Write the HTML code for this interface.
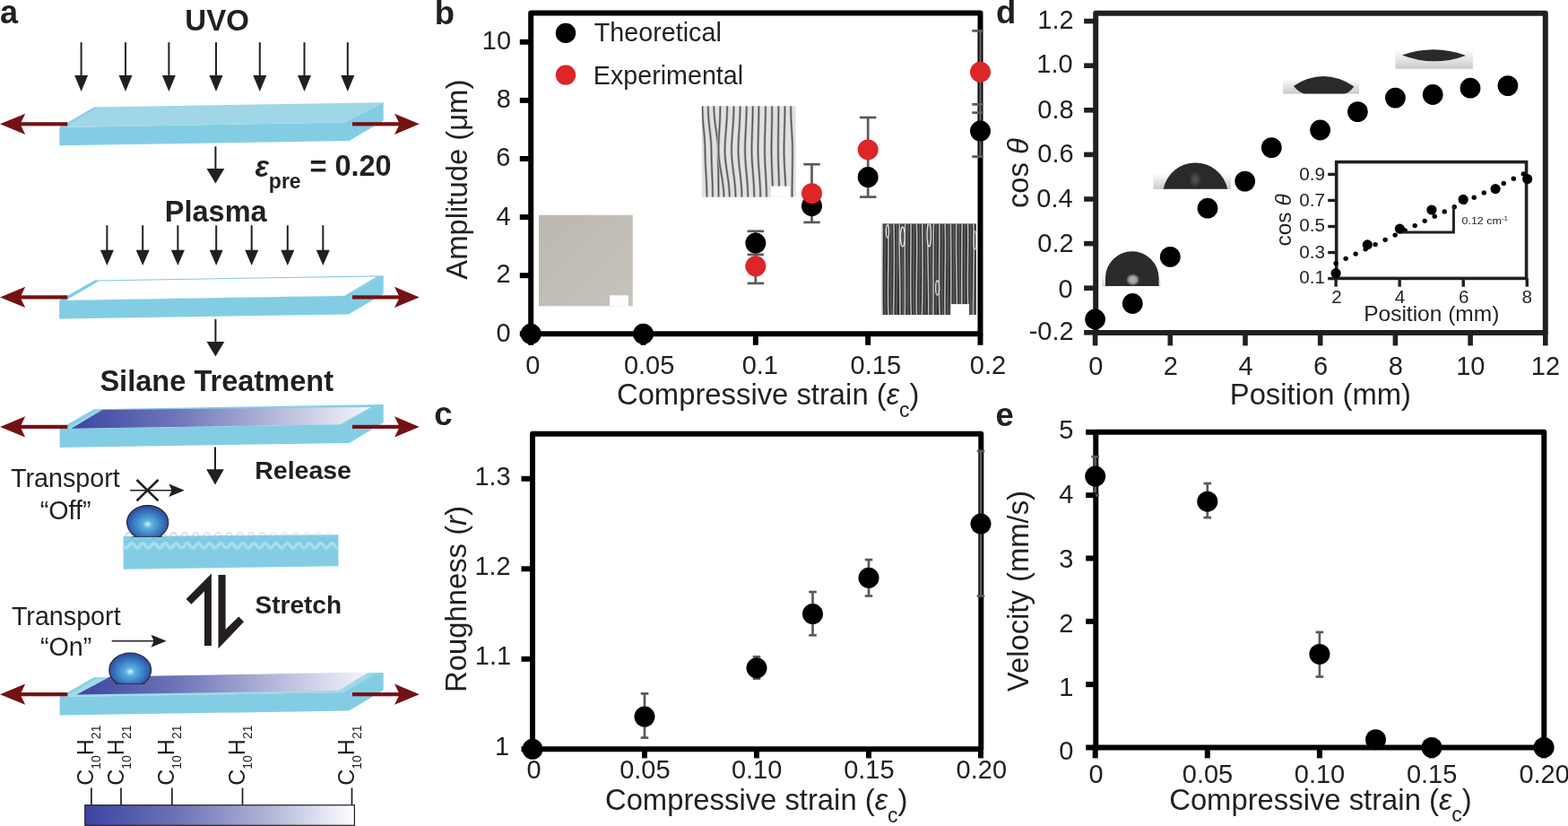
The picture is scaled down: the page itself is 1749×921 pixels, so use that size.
<!DOCTYPE html>
<html><head><meta charset="utf-8"><title>Figure</title>
<style>html,body{margin:0;padding:0;background:#fff;overflow:hidden;} svg{display:block;} text{font-family:'Liberation Sans', Arial, Helvetica, sans-serif;}</style>
</head><body>
<svg width="1749" height="921" viewBox="0 0 1749 921">
<defs>
<linearGradient id="sil" x1="0" y1="0" x2="1" y2="0"><stop offset="0" stop-color="#3c45a2"/><stop offset="0.35" stop-color="#6f75b8"/><stop offset="0.7" stop-color="#b9bcdc"/><stop offset="1" stop-color="#f6f6fb"/></linearGradient>
<linearGradient id="bar" x1="0" y1="0" x2="1" y2="0"><stop offset="0" stop-color="#3a44a1"/><stop offset="0.35" stop-color="#6e74b7"/><stop offset="0.7" stop-color="#b5b8da"/><stop offset="1" stop-color="#ffffff"/></linearGradient>
<radialGradient id="drop" cx="0.5" cy="0.55" r="0.55" fx="0.5" fy="0.55"><stop offset="0" stop-color="#ffffff"/><stop offset="0.07" stop-color="#a4daf0"/><stop offset="0.22" stop-color="#58b0dc"/><stop offset="0.6" stop-color="#3a7cc3"/><stop offset="1" stop-color="#2a4598"/></radialGradient>
<clipPath id="cd1"><rect x="130" y="555" width="70" height="43.6"/></clipPath>
<clipPath id="cd2"><rect x="110" y="720" width="70" height="42.6"/></clipPath>
<linearGradient id="dbg" x1="0" y1="0" x2="0" y2="1"><stop offset="0" stop-color="#ffffff"/><stop offset="1" stop-color="#c9c9c9"/></linearGradient>
<radialGradient id="hl1" cx="0.5" cy="0.5" r="0.5"><stop offset="0" stop-color="#b8b8b8"/><stop offset="0.55" stop-color="#9c9c9c"/><stop offset="1" stop-color="#2b2b2b"/></radialGradient>
<radialGradient id="hl2" cx="0.5" cy="0.5" r="0.5"><stop offset="0" stop-color="#5a5a5a"/><stop offset="1" stop-color="#2b2b2b"/></radialGradient>
</defs>
<rect x="0" y="0" width="1749" height="921" fill="#ffffff"/>
<text transform="translate(0.00,26.34)" font-size="36" font-weight="bold" fill="#231f20">a</text>
<text transform="translate(242.10,34.40)" font-size="33" font-weight="bold" text-anchor="middle" fill="#231f20">UVO</text>
<line x1="90.60" y1="47.20" x2="90.60" y2="85.00" stroke="#231f20" stroke-width="2.0"/>
<polygon points="83.10,84.00 98.10,84.00 90.60,102.00" fill="#231f20"/>
<line x1="140.00" y1="47.20" x2="140.00" y2="85.00" stroke="#231f20" stroke-width="2.0"/>
<polygon points="132.50,84.00 147.50,84.00 140.00,102.00" fill="#231f20"/>
<line x1="188.40" y1="47.20" x2="188.40" y2="85.00" stroke="#231f20" stroke-width="2.0"/>
<polygon points="180.90,84.00 195.90,84.00 188.40,102.00" fill="#231f20"/>
<line x1="241.00" y1="47.20" x2="241.00" y2="85.00" stroke="#231f20" stroke-width="2.0"/>
<polygon points="233.50,84.00 248.50,84.00 241.00,102.00" fill="#231f20"/>
<line x1="289.80" y1="47.20" x2="289.80" y2="85.00" stroke="#231f20" stroke-width="2.0"/>
<polygon points="282.30,84.00 297.30,84.00 289.80,102.00" fill="#231f20"/>
<line x1="339.50" y1="47.20" x2="339.50" y2="85.00" stroke="#231f20" stroke-width="2.0"/>
<polygon points="332.00,84.00 347.00,84.00 339.50,102.00" fill="#231f20"/>
<line x1="387.80" y1="47.20" x2="387.80" y2="85.00" stroke="#231f20" stroke-width="2.0"/>
<polygon points="380.30,84.00 395.30,84.00 387.80,102.00" fill="#231f20"/>
<polygon points="66.30,141.90 383.40,136.60 427.70,114.20 427.70,134.60 389.60,157.00 66.30,162.30" fill="#83cde4"/>
<polygon points="66.30,141.90 105.00,119.50 427.70,114.20 383.40,136.60" fill="#9fd7e8"/>
<polygon points="66.30,141.90 105.00,119.50 110.00,119.45 71.50,141.80" fill="#8dd1e6"/>
<rect x="20" y="136.20" width="55.3" height="4.2" fill="#741213"/>
<polygon points="0.00,138.30 28.20,126.70 22.60,138.30 28.20,149.90" fill="#741213"/>
<rect x="393" y="136.20" width="54" height="4.2" fill="#741213"/>
<polygon points="467.80,138.30 440.00,126.70 445.80,138.30 440.00,149.90" fill="#741213"/>
<line x1="240.40" y1="163.30" x2="240.40" y2="188.90" stroke="#231f20" stroke-width="2.0"/>
<polygon points="230.50,187.90 250.30,187.90 240.40,204.40" fill="#231f20"/>
<text transform="translate(284.60,196.65)" font-size="32.5" font-weight="bold" font-style="italic" fill="#231f20">ε</text>
<text transform="translate(299.85,209.60)" font-size="23" font-weight="bold" fill="#231f20">pre</text>
<text transform="translate(345.40,195.60)" font-size="32.5" font-weight="bold" fill="#231f20"><tspan dy="1.4">=</tspan><tspan dy="-1.4"> 0.20</tspan></text>
<text transform="translate(240.75,246.90)" font-size="32.5" font-weight="bold" text-anchor="middle" fill="#231f20">Plasma</text>
<line x1="119.40" y1="251.30" x2="119.40" y2="279.80" stroke="#231f20" stroke-width="2.0"/>
<polygon points="111.90,278.80 126.90,278.80 119.40,296.00" fill="#231f20"/>
<line x1="159.20" y1="251.30" x2="159.20" y2="279.80" stroke="#231f20" stroke-width="2.0"/>
<polygon points="151.70,278.80 166.70,278.80 159.20,296.00" fill="#231f20"/>
<line x1="198.40" y1="251.30" x2="198.40" y2="279.80" stroke="#231f20" stroke-width="2.0"/>
<polygon points="190.90,278.80 205.90,278.80 198.40,296.00" fill="#231f20"/>
<line x1="241.20" y1="251.30" x2="241.20" y2="279.80" stroke="#231f20" stroke-width="2.0"/>
<polygon points="233.70,278.80 248.70,278.80 241.20,296.00" fill="#231f20"/>
<line x1="280.70" y1="251.30" x2="280.70" y2="279.80" stroke="#231f20" stroke-width="2.0"/>
<polygon points="273.20,278.80 288.20,278.80 280.70,296.00" fill="#231f20"/>
<line x1="320.80" y1="251.30" x2="320.80" y2="279.80" stroke="#231f20" stroke-width="2.0"/>
<polygon points="313.30,278.80 328.30,278.80 320.80,296.00" fill="#231f20"/>
<line x1="360.30" y1="251.30" x2="360.30" y2="279.80" stroke="#231f20" stroke-width="2.0"/>
<polygon points="352.80,278.80 367.80,278.80 360.30,296.00" fill="#231f20"/>
<polygon points="66.20,334.90 383.60,329.90 427.70,307.30 427.70,327.50 388.90,350.40 66.20,355.40" fill="#83cde4"/>
<polygon points="66.20,334.90 105.50,312.50 427.70,307.30 383.60,329.90" fill="#80cbe3"/>
<polygon points="73.80,334.80 110.20,313.40 420.30,308.40 384.20,329.70" fill="#ffffff"/>
<rect x="20" y="329.30" width="55.3" height="4.2" fill="#741213"/>
<polygon points="0.00,331.40 28.20,319.80 22.60,331.40 28.20,343.00" fill="#741213"/>
<rect x="393" y="329.30" width="54" height="4.2" fill="#741213"/>
<polygon points="467.80,331.40 440.00,319.80 445.80,331.40 440.00,343.00" fill="#741213"/>
<line x1="240.40" y1="355.90" x2="240.40" y2="382.00" stroke="#231f20" stroke-width="2.0"/>
<polygon points="230.50,381.00 250.30,381.00 240.40,397.60" fill="#231f20"/>
<text transform="translate(241.75,435.65)" font-size="32.6" font-weight="bold" text-anchor="middle" fill="#231f20">Silane Treatment</text>
<polygon points="66.60,478.10 380.10,473.20 420.00,451.60 427.70,451.10 427.70,471.00 389.60,494.00 66.60,498.90" fill="#83cde4"/>
<polygon points="66.60,478.10 105.10,456.20 427.70,451.10 380.10,473.20" fill="#87cfe4"/>
<line x1="77.60" y1="478.00" x2="111.90" y2="456.60" stroke="#a6dbea" stroke-width="1.3"/>
<polygon points="79.70,477.80 114.30,456.90 413.60,454.10 380.10,472.90" fill="url(#sil)"/>
<rect x="20" y="473.80" width="55.3" height="4.2" fill="#741213"/>
<polygon points="0.00,475.90 28.20,464.30 22.60,475.90 28.20,487.50" fill="#741213"/>
<rect x="393" y="473.80" width="54" height="4.2" fill="#741213"/>
<polygon points="467.80,475.90 440.00,464.30 445.80,475.90 440.00,487.50" fill="#741213"/>
<line x1="240.00" y1="498.60" x2="240.00" y2="524.30" stroke="#231f20" stroke-width="2.0"/>
<polygon points="230.20,523.30 249.80,523.30 240.00,540.60" fill="#231f20"/>
<text transform="translate(284.20,534.15)" font-size="28.5" font-weight="bold" fill="#231f20">Release</text>
<text transform="translate(12.10,543.45)" font-size="28.7" fill="#231f20">Transport</text>
<text transform="translate(44.70,578.80)" font-size="28.7" fill="#231f20">“Off”</text>
<line x1="152.50" y1="535.00" x2="176.50" y2="558.40" stroke="#231f20" stroke-width="2.6"/>
<line x1="176.50" y1="535.00" x2="152.50" y2="558.40" stroke="#231f20" stroke-width="2.6"/>
<line x1="145.10" y1="546.70" x2="192.00" y2="546.70" stroke="#231f20" stroke-width="1.6"/>
<polygon points="188.40,539.50 205.70,546.70 188.40,553.90 191.50,546.70" fill="#231f20"/>
<polygon points="137.60,597.90 377.40,596.30 377.40,631.30 137.60,634.70" fill="#83cde4"/>
<path d="M137.60,608.50 L138.60,609.76 L139.60,610.71 L140.61,611.10 L141.61,610.83 L142.61,609.98 L143.61,608.75 L144.61,607.46 L145.61,606.43 L146.62,605.93 L147.62,606.07 L148.62,606.82 L149.62,608.00 L150.62,609.31 L151.62,610.41 L152.63,611.03 L153.63,611.01 L154.63,610.36 L155.63,609.24 L156.63,607.94 L157.63,606.77 L158.64,606.05 L159.64,605.94 L160.64,606.48 L161.64,607.52 L162.64,608.82 L163.64,610.03 L164.65,610.86 L165.65,611.09 L166.65,610.67 L167.65,609.70 L168.65,608.43 L169.65,607.18 L170.66,606.26 L171.66,605.90 L172.66,606.20 L173.66,607.08 L174.66,608.32 L175.66,609.60 L176.67,610.61 L177.67,611.08 L178.67,610.91 L179.67,610.12 L180.67,608.93 L181.67,607.63 L182.68,606.55 L183.68,605.96 L184.68,606.01 L185.68,606.69 L186.68,607.83 L187.68,609.13 L188.69,610.28 L189.69,610.98 L190.69,611.05 L191.69,610.48 L192.69,609.41 L193.69,608.11 L194.70,606.91 L195.70,606.11 L196.70,605.91 L197.70,606.37 L198.70,607.36 L199.70,608.64 L200.71,609.88 L201.71,610.78 L202.71,611.10 L203.71,610.77 L204.71,609.86 L205.71,608.61 L206.72,607.34 L207.72,606.35 L208.72,605.91 L209.72,606.12 L210.72,606.93 L211.72,608.14 L212.73,609.44 L213.73,610.50 L214.73,611.05 L215.73,610.97 L216.73,610.26 L217.73,609.11 L218.74,607.80 L219.74,606.67 L220.74,606.00 L221.74,605.96 L222.74,606.56 L223.74,607.65 L224.75,608.95 L225.75,610.14 L226.75,610.91 L227.75,611.08 L228.75,610.59 L229.75,609.58 L230.76,608.29 L231.76,607.06 L232.76,606.19 L233.76,605.90 L234.76,606.27 L235.76,607.20 L236.77,608.46 L237.77,609.72 L238.77,610.69 L239.77,611.09 L240.77,610.85 L241.77,610.01 L242.78,608.79 L243.78,607.50 L244.78,606.46 L245.78,605.93 L246.78,606.05 L247.78,606.79 L248.79,607.96 L249.79,609.26 L250.79,610.38 L251.79,611.01 L252.79,611.02 L253.79,610.39 L254.80,609.28 L255.80,607.98 L256.80,606.81 L257.80,606.06 L258.80,605.93 L259.81,606.45 L260.81,607.48 L261.81,608.77 L262.81,610.00 L263.81,610.84 L264.81,611.10 L265.82,610.70 L266.82,609.74 L267.82,608.48 L268.82,607.22 L269.82,606.28 L270.82,605.90 L271.83,606.18 L272.83,607.04 L273.83,608.27 L274.83,609.56 L275.83,610.58 L276.83,611.08 L277.84,610.92 L278.84,610.16 L279.84,608.97 L280.84,607.67 L281.84,606.58 L282.84,605.97 L283.85,606.00 L284.85,606.66 L285.85,607.78 L286.85,609.09 L287.85,610.25 L288.85,610.96 L289.86,611.06 L290.86,610.51 L291.86,609.45 L292.86,608.16 L293.86,606.95 L294.86,606.13 L295.87,605.91 L296.87,606.34 L297.87,607.32 L298.87,608.59 L299.87,609.84 L300.87,610.76 L301.88,611.10 L302.88,610.79 L303.88,609.90 L304.88,608.66 L305.88,607.38 L306.88,606.38 L307.89,605.92 L308.89,606.10 L309.89,606.90 L310.89,608.09 L311.89,609.39 L312.89,610.47 L313.90,611.05 L314.90,610.98 L315.90,610.29 L316.90,609.15 L317.90,607.85 L318.90,606.70 L319.91,606.02 L320.91,605.96 L321.91,606.54 L322.91,607.61 L323.91,608.91 L324.91,610.11 L325.92,610.90 L326.92,611.08 L327.92,610.62 L328.92,609.62 L329.92,608.34 L330.92,607.10 L331.93,606.21 L332.93,605.90 L333.93,606.25 L334.93,607.16 L335.93,608.41 L336.93,609.69 L337.94,610.66 L338.94,611.09 L339.94,610.87 L340.94,610.05 L341.94,608.84 L342.94,607.54 L343.95,606.49 L344.95,605.94 L345.95,606.04 L346.95,606.76 L347.95,607.92 L348.95,609.22 L349.96,610.34 L350.96,611.00 L351.96,611.03 L352.96,610.42 L353.96,609.32 L354.96,608.02 L355.97,606.84 L356.97,606.08 L357.97,605.92 L358.97,606.42 L359.97,607.44 L360.97,608.73 L361.98,609.96 L362.98,610.82 L363.98,611.10 L364.98,610.72 L365.98,609.78 L366.98,608.52 L367.99,607.25 L368.99,606.30 L369.99,605.90 L370.99,606.16 L371.99,607.01 L372.99,608.23 L374.00,609.52 L375.00,610.55 L376.00,611.07" stroke="#a9dcec" stroke-width="3.6" fill="none"/>
<path d="M137.60,602.50 L138.60,603.67 L139.60,604.54 L140.61,604.90 L141.61,604.65 L142.61,603.86 L143.61,602.73 L144.61,601.54 L145.61,600.59 L146.62,600.12 L147.62,600.26 L148.62,600.95 L149.62,602.04 L150.62,603.24 L151.62,604.26 L152.63,604.83 L153.63,604.81 L154.63,604.22 L155.63,603.18 L156.63,601.98 L157.63,600.91 L158.64,600.23 L159.64,600.13 L160.64,600.63 L161.64,601.60 L162.64,602.79 L163.64,603.91 L164.65,604.68 L165.65,604.89 L166.65,604.50 L167.65,603.61 L168.65,602.44 L169.65,601.28 L170.66,600.43 L171.66,600.10 L172.66,600.38 L173.66,601.19 L174.66,602.33 L175.66,603.52 L176.67,604.45 L177.67,604.88 L178.67,604.72 L179.67,604.00 L180.67,602.90 L181.67,601.70 L182.68,600.70 L183.68,600.15 L184.68,600.20 L185.68,600.83 L186.68,601.88 L187.68,603.08 L188.69,604.14 L189.69,604.79 L190.69,604.85 L191.69,604.33 L192.69,603.34 L193.69,602.14 L194.70,601.03 L195.70,600.30 L196.70,600.11 L197.70,600.53 L198.70,601.45 L199.70,602.63 L200.71,603.78 L201.71,604.60 L202.71,604.90 L203.71,604.59 L204.71,603.76 L205.71,602.60 L206.72,601.43 L207.72,600.52 L208.72,600.11 L209.72,600.30 L210.72,601.05 L211.72,602.17 L212.73,603.36 L213.73,604.34 L214.73,604.86 L215.73,604.78 L216.73,604.12 L217.73,603.06 L218.74,601.86 L219.74,600.81 L220.74,600.20 L221.74,600.16 L222.74,600.71 L223.74,601.72 L224.75,602.92 L225.75,604.01 L226.75,604.73 L227.75,604.88 L228.75,604.43 L229.75,603.50 L230.76,602.31 L231.76,601.17 L232.76,600.37 L233.76,600.10 L234.76,600.44 L235.76,601.30 L236.77,602.46 L237.77,603.63 L238.77,604.52 L239.77,604.89 L240.77,604.67 L241.77,603.90 L242.78,602.77 L243.78,601.58 L244.78,600.62 L245.78,600.13 L246.78,600.24 L247.78,600.92 L248.79,602.00 L249.79,603.20 L250.79,604.23 L251.79,604.82 L252.79,604.83 L253.79,604.24 L254.80,603.22 L255.80,602.02 L256.80,600.94 L257.80,600.25 L258.80,600.13 L259.81,600.61 L260.81,601.56 L261.81,602.75 L262.81,603.88 L263.81,604.66 L264.81,604.90 L265.82,604.53 L266.82,603.65 L267.82,602.48 L268.82,601.31 L269.82,600.45 L270.82,600.10 L271.83,600.36 L272.83,601.16 L273.83,602.29 L274.83,603.48 L275.83,604.42 L276.83,604.88 L277.84,604.74 L278.84,604.03 L279.84,602.94 L280.84,601.73 L281.84,600.73 L282.84,600.16 L283.85,600.19 L284.85,600.80 L285.85,601.84 L286.85,603.04 L287.85,604.11 L288.85,604.77 L289.86,604.86 L290.86,604.35 L291.86,603.38 L292.86,602.18 L293.86,601.07 L294.86,600.31 L295.87,600.11 L296.87,600.51 L297.87,601.41 L298.87,602.59 L299.87,603.74 L300.87,604.58 L301.88,604.90 L302.88,604.61 L303.88,603.79 L304.88,602.65 L305.88,601.46 L306.88,600.54 L307.89,600.11 L308.89,600.29 L309.89,601.02 L310.89,602.13 L311.89,603.32 L312.89,604.32 L313.90,604.85 L314.90,604.79 L315.90,604.15 L316.90,603.10 L317.90,601.90 L318.90,600.84 L319.91,600.21 L320.91,600.15 L321.91,600.69 L322.91,601.68 L323.91,602.88 L324.91,603.98 L325.92,604.71 L326.92,604.89 L327.92,604.46 L328.92,603.53 L329.92,602.35 L330.92,601.21 L331.93,600.39 L332.93,600.10 L333.93,600.42 L334.93,601.26 L335.93,602.42 L336.93,603.59 L337.94,604.49 L338.94,604.89 L339.94,604.69 L340.94,603.93 L341.94,602.81 L342.94,601.62 L343.95,600.64 L344.95,600.14 L345.95,600.23 L346.95,600.89 L347.95,601.96 L348.95,603.17 L349.96,604.20 L350.96,604.81 L351.96,604.84 L352.96,604.27 L353.96,603.26 L354.96,602.06 L355.97,600.97 L356.97,600.26 L357.97,600.12 L358.97,600.58 L359.97,601.52 L360.97,602.71 L361.98,603.85 L362.98,604.64 L363.98,604.90 L364.98,604.55 L365.98,603.68 L366.98,602.52 L367.99,601.35 L368.99,600.47 L369.99,600.10 L370.99,600.34 L371.99,601.12 L372.99,602.25 L374.00,603.44 L375.00,604.40 L376.00,604.87" stroke="#6aa8d8" stroke-width="0.7" fill="none" opacity="0.7"/>
<defs><linearGradient id="scg" x1="0" y1="0" x2="1" y2="0"><stop offset="0" stop-color="#8f93d6"/><stop offset="1" stop-color="#d8daf0"/></linearGradient></defs>
<path d="M140.50,598.2 A3.4,4.3 0 0 1 147.30,598.2 M152.90,598.2 A3.4,4.3 0 0 1 159.70,598.2 M165.30,598.2 A3.4,4.3 0 0 1 172.10,598.2 M177.70,598.2 A3.4,4.3 0 0 1 184.50,598.2 M190.10,598.2 A3.4,4.3 0 0 1 196.90,598.2 M202.50,598.2 A3.4,4.3 0 0 1 209.30,598.2 M214.90,598.2 A3.4,4.3 0 0 1 221.70,598.2 M227.30,598.2 A3.4,4.3 0 0 1 234.10,598.2 M239.70,598.2 A3.4,4.3 0 0 1 246.50,598.2 M252.10,598.2 A3.4,4.3 0 0 1 258.90,598.2 M264.50,598.2 A3.4,4.3 0 0 1 271.30,598.2 M276.90,598.2 A3.4,4.3 0 0 1 283.70,598.2 M289.30,598.2 A3.4,4.3 0 0 1 296.10,598.2 M301.70,598.2 A3.4,4.3 0 0 1 308.50,598.2 M314.10,598.2 A3.4,4.3 0 0 1 320.90,598.2 M326.50,598.2 A3.4,4.3 0 0 1 333.30,598.2 M338.90,598.2 A3.4,4.3 0 0 1 345.70,598.2 M351.30,598.2 A3.4,4.3 0 0 1 358.10,598.2 M363.70,598.2 A3.4,4.3 0 0 1 370.50,598.2" stroke="url(#scg)" stroke-width="0.8" fill="none"/>
<g clip-path="url(#cd1)"><ellipse cx="164.7" cy="582.6" rx="23.1" ry="19.0" fill="url(#drop)" stroke="#231f20" stroke-width="1.1"/></g>
<line x1="148.00" y1="598.40" x2="181.00" y2="598.40" stroke="#231f20" stroke-width="0.8"/>
<polygon points="235.90,639.40 235.90,720.00 228.00,720.00 228.00,659.30 213.40,673.80 207.60,667.90" fill="#231f20"/>
<polygon points="243.50,641.00 251.60,641.00 251.60,701.80 266.30,687.40 272.00,693.20 243.50,723.30" fill="#231f20"/>
<text transform="translate(284.55,684.30)" font-size="28" font-weight="bold" fill="#231f20">Stretch</text>
<text transform="translate(12.90,697.40)" font-size="28.7" fill="#231f20">Transport</text>
<text transform="translate(44.95,730.65)" font-size="28.7" fill="#231f20">“On”</text>
<line x1="124.70" y1="714.70" x2="172.00" y2="714.70" stroke="#231f20" stroke-width="1.6"/>
<polygon points="168.60,707.70 185.60,714.70 168.60,721.70 171.50,714.70" fill="#231f20"/>
<polygon points="66.60,777.10 383.30,772.10 419.30,750.60 427.70,749.90 427.70,769.60 389.30,792.60 66.60,797.50" fill="#83cde4"/>
<polygon points="66.60,777.10 104.80,755.20 427.70,749.90 383.30,772.10" fill="#87cfe4"/>
<polygon points="72.40,777.10 110.60,755.10 419.30,750.30 383.30,772.10" fill="#a2d9e9"/>
<polygon points="85.40,774.60 122.80,754.60 411.10,749.60 377.30,770.00" fill="url(#sil)"/>
<rect x="20" y="772.10" width="55.3" height="4.2" fill="#741213"/>
<polygon points="0.00,774.20 28.20,762.60 22.60,774.20 28.20,785.80" fill="#741213"/>
<rect x="393" y="772.10" width="54" height="4.2" fill="#741213"/>
<polygon points="467.80,774.20 440.00,762.60 445.80,774.20 440.00,785.80" fill="#741213"/>
<g clip-path="url(#cd2)"><ellipse cx="145.2" cy="747" rx="23.4" ry="19.0" fill="url(#drop)" stroke="#231f20" stroke-width="1.1"/></g>
<line x1="128.50" y1="762.40" x2="162.00" y2="762.40" stroke="#231f20" stroke-width="0.8"/>
<rect x="94.8" y="897.7" width="300.6" height="22.6" fill="url(#bar)" stroke="#231f20" stroke-width="1.2"/>
<line x1="101.90" y1="878.50" x2="101.90" y2="897.50" stroke="#231f20" stroke-width="1.7"/>
<text transform="translate(104.40,875.85) rotate(-90)" font-size="25" fill="#231f20">C<tspan font-size="14" dy="7.5">10</tspan><tspan dy="-7.5">H</tspan><tspan font-size="14" dy="7.5">21</tspan></text>
<line x1="135.00" y1="878.50" x2="135.00" y2="897.50" stroke="#231f20" stroke-width="1.7"/>
<text transform="translate(138.20,875.80) rotate(-90)" font-size="25" fill="#231f20">C<tspan font-size="14" dy="7.5">10</tspan><tspan dy="-7.5">H</tspan><tspan font-size="14" dy="7.5">21</tspan></text>
<line x1="191.90" y1="878.50" x2="191.90" y2="897.50" stroke="#231f20" stroke-width="1.7"/>
<text transform="translate(194.00,875.80) rotate(-90)" font-size="25" fill="#231f20">C<tspan font-size="14" dy="7.5">10</tspan><tspan dy="-7.5">H</tspan><tspan font-size="14" dy="7.5">21</tspan></text>
<line x1="270.50" y1="878.50" x2="270.50" y2="897.50" stroke="#231f20" stroke-width="1.7"/>
<text transform="translate(273.40,875.80) rotate(-90)" font-size="25" fill="#231f20">C<tspan font-size="14" dy="7.5">10</tspan><tspan dy="-7.5">H</tspan><tspan font-size="14" dy="7.5">21</tspan></text>
<line x1="392.50" y1="878.50" x2="392.50" y2="897.50" stroke="#231f20" stroke-width="1.7"/>
<text transform="translate(395.20,875.80) rotate(-90)" font-size="25" fill="#231f20">C<tspan font-size="14" dy="7.5">10</tspan><tspan dy="-7.5">H</tspan><tspan font-size="14" dy="7.5">21</tspan></text>
<text transform="translate(484.70,26.90)" font-size="36.5" font-weight="bold" fill="#231f20">b</text>
<defs><linearGradient id="g1" x1="0" y1="0" x2="1" y2="1"><stop offset="0" stop-color="#bcb8b1"/><stop offset="1" stop-color="#c6c3bc"/></linearGradient></defs>
<rect x="601" y="239.8" width="104.8" height="101.5" fill="url(#g1)"/>
<rect x="680" y="329.3" width="21" height="12" fill="#ffffff"/>
<rect x="782.7" y="118.3" width="105" height="101.5" fill="#e1e1e1"/>
<clipPath id="ci2"><rect x="782.7" y="118.3" width="105" height="101.5"/></clipPath>
<g clip-path="url(#ci2)"><path d="M783.5,118.3 C783.5,140 786.5,150 786.5,168 S788.5,200 788.5,219.8" stroke="#b4b4b4" stroke-width="3.0" fill="none"/><path d="M783.5,118.3 C783.5,140 786.5,150 786.5,168 S788.5,200 788.5,219.8" stroke="#555555" stroke-width="1.4" fill="none"/><path d="M789.8,118.3 C789.8,140 793.5,150 793.5,168 S795.0,200 795.0,219.8" stroke="#b4b4b4" stroke-width="3.0" fill="none"/><path d="M789.8,118.3 C789.8,140 793.5,150 793.5,168 S795.0,200 795.0,219.8" stroke="#555555" stroke-width="1.4" fill="none"/><path d="M796.3,118.3 C796.3,140 801.0,150 801.0,168 S801.5,200 801.5,219.8" stroke="#b4b4b4" stroke-width="3.0" fill="none"/><path d="M796.3,118.3 C796.3,140 801.0,150 801.0,168 S801.5,200 801.5,219.8" stroke="#555555" stroke-width="1.4" fill="none"/><path d="M803.4,118.3 C803.4,140 801.5,150 801.5,168 S807.5,200 807.5,219.8" stroke="#b4b4b4" stroke-width="3.0" fill="none"/><path d="M803.4,118.3 C803.4,140 801.5,150 801.5,168 S807.5,200 807.5,219.8" stroke="#555555" stroke-width="1.4" fill="none"/><path d="M811.2,118.3 C811.2,140 808.5,150 808.5,168 S813.8,200 813.8,219.8" stroke="#b4b4b4" stroke-width="3.0" fill="none"/><path d="M811.2,118.3 C811.2,140 808.5,150 808.5,168 S813.8,200 813.8,219.8" stroke="#555555" stroke-width="1.4" fill="none"/><path d="M818.5,118.3 C818.5,140 816.0,150 816.0,168 S820.5,200 820.5,219.8" stroke="#b4b4b4" stroke-width="3.0" fill="none"/><path d="M818.5,118.3 C818.5,140 816.0,150 816.0,168 S820.5,200 820.5,219.8" stroke="#555555" stroke-width="1.4" fill="none"/><path d="M825.6,118.3 C825.6,140 823.5,150 823.5,168 S827.5,200 827.5,219.8" stroke="#b4b4b4" stroke-width="3.0" fill="none"/><path d="M825.6,118.3 C825.6,140 823.5,150 823.5,168 S827.5,200 827.5,219.8" stroke="#555555" stroke-width="1.4" fill="none"/><path d="M832.7,118.3 C832.7,140 831.0,150 831.0,168 S834.3,200 834.3,219.8" stroke="#b4b4b4" stroke-width="3.0" fill="none"/><path d="M832.7,118.3 C832.7,140 831.0,150 831.0,168 S834.3,200 834.3,219.8" stroke="#555555" stroke-width="1.4" fill="none"/><path d="M839.7,118.3 C839.7,140 838.5,150 838.5,168 S841.3,200 841.3,219.8" stroke="#b4b4b4" stroke-width="3.0" fill="none"/><path d="M839.7,118.3 C839.7,140 838.5,150 838.5,168 S841.3,200 841.3,219.8" stroke="#555555" stroke-width="1.4" fill="none"/><path d="M846.4,118.3 C846.4,140 845.5,150 845.5,168 S848.2,200 848.2,219.8" stroke="#b4b4b4" stroke-width="3.0" fill="none"/><path d="M846.4,118.3 C846.4,140 845.5,150 845.5,168 S848.2,200 848.2,219.8" stroke="#555555" stroke-width="1.4" fill="none"/><path d="M853.9,118.3 C853.9,140 853.0,150 853.0,168 S855.0,200 855.0,219.8" stroke="#b4b4b4" stroke-width="3.0" fill="none"/><path d="M853.9,118.3 C853.9,140 853.0,150 853.0,168 S855.0,200 855.0,219.8" stroke="#555555" stroke-width="1.4" fill="none"/><path d="M861.2,118.3 C861.2,140 860.5,150 860.5,168 S862.0,200 862.0,219.8" stroke="#b4b4b4" stroke-width="3.0" fill="none"/><path d="M861.2,118.3 C861.2,140 860.5,150 860.5,168 S862.0,200 862.0,219.8" stroke="#555555" stroke-width="1.4" fill="none"/><path d="M868.4,118.3 C868.4,140 868.0,150 868.0,168 S869.2,200 869.2,219.8" stroke="#b4b4b4" stroke-width="3.0" fill="none"/><path d="M868.4,118.3 C868.4,140 868.0,150 868.0,168 S869.2,200 869.2,219.8" stroke="#555555" stroke-width="1.4" fill="none"/><path d="M875.5,118.3 C875.5,140 874.5,150 874.5,168 S876.5,200 876.5,219.8" stroke="#b4b4b4" stroke-width="3.0" fill="none"/><path d="M875.5,118.3 C875.5,140 874.5,150 874.5,168 S876.5,200 876.5,219.8" stroke="#555555" stroke-width="1.4" fill="none"/><path d="M882.1,118.3 C882.1,140 884.0,150 884.0,168 S883.5,200 883.5,219.8" stroke="#b4b4b4" stroke-width="3.0" fill="none"/><path d="M882.1,118.3 C882.1,140 884.0,150 884.0,168 S883.5,200 883.5,219.8" stroke="#555555" stroke-width="1.4" fill="none"/></g>
<rect x="860" y="207.6" width="21" height="12.2" fill="#ffffff"/>
<rect x="983.8" y="249.5" width="105" height="101.5" fill="#2d2d2f"/>
<clipPath id="ci3"><rect x="983.8" y="249.5" width="105" height="101.5"/></clipPath>
<g clip-path="url(#ci3)"><path d="M987.50,249.5 C987.50,280 986.64,320 987.50,351" stroke="#57555d" stroke-width="2.2" fill="none"/><path d="M984.30,249.5 C984.30,280 983.44,320 984.30,351" stroke="#bcbcb4" stroke-width="1.6" fill="none"/><path d="M993.85,249.5 C995.01,280 992.81,320 994.11,351" stroke="#57555d" stroke-width="2.2" fill="none"/><path d="M990.65,249.5 C991.81,280 989.61,320 990.91,351" stroke="#bcbcb4" stroke-width="1.6" fill="none"/><path d="M1000.20,249.5 C1000.82,280 1000.51,320 999.76,351" stroke="#57555d" stroke-width="2.2" fill="none"/><path d="M997.00,249.5 C997.62,280 997.31,320 996.56,351" stroke="#bcbcb4" stroke-width="1.6" fill="none"/><path d="M1006.55,249.5 C1005.72,280 1007.75,320 1007.05,351" stroke="#57555d" stroke-width="2.2" fill="none"/><path d="M1003.35,249.5 C1002.52,280 1004.55,320 1003.85,351" stroke="#bcbcb4" stroke-width="1.6" fill="none"/><path d="M1012.90,249.5 C1011.84,280 1013.24,320 1012.49,351" stroke="#57555d" stroke-width="2.2" fill="none"/><path d="M1009.70,249.5 C1008.64,280 1010.04,320 1009.29,351" stroke="#bcbcb4" stroke-width="1.6" fill="none"/><path d="M1019.25,249.5 C1019.51,280 1018.23,320 1019.46,351" stroke="#57555d" stroke-width="2.2" fill="none"/><path d="M1016.05,249.5 C1016.31,280 1015.03,320 1016.26,351" stroke="#bcbcb4" stroke-width="1.6" fill="none"/><path d="M1025.60,249.5 C1026.80,280 1024.72,320 1025.65,351" stroke="#57555d" stroke-width="2.2" fill="none"/><path d="M1022.40,249.5 C1023.60,280 1021.52,320 1022.45,351" stroke="#bcbcb4" stroke-width="1.6" fill="none"/><path d="M1031.95,249.5 C1032.33,280 1032.50,320 1031.65,351" stroke="#57555d" stroke-width="2.2" fill="none"/><path d="M1028.75,249.5 C1029.13,280 1029.30,320 1028.45,351" stroke="#bcbcb4" stroke-width="1.6" fill="none"/><path d="M1038.30,249.5 C1037.31,280 1039.48,320 1038.76,351" stroke="#57555d" stroke-width="2.2" fill="none"/><path d="M1035.10,249.5 C1034.11,280 1036.28,320 1035.56,351" stroke="#bcbcb4" stroke-width="1.6" fill="none"/><path d="M1044.65,249.5 C1043.74,280 1044.73,320 1044.16,351" stroke="#57555d" stroke-width="2.2" fill="none"/><path d="M1041.45,249.5 C1040.54,280 1041.53,320 1040.96,351" stroke="#bcbcb4" stroke-width="1.6" fill="none"/><path d="M1051.00,249.5 C1051.50,280 1049.87,320 1051.38,351" stroke="#57555d" stroke-width="2.2" fill="none"/><path d="M1047.80,249.5 C1048.30,280 1046.67,320 1048.18,351" stroke="#bcbcb4" stroke-width="1.6" fill="none"/><path d="M1057.35,249.5 C1058.53,280 1056.66,320 1057.19,351" stroke="#57555d" stroke-width="2.2" fill="none"/><path d="M1054.15,249.5 C1055.33,280 1053.46,320 1053.99,351" stroke="#bcbcb4" stroke-width="1.6" fill="none"/><path d="M1063.70,249.5 C1063.83,280 1064.47,320 1063.59,351" stroke="#57555d" stroke-width="2.2" fill="none"/><path d="M1060.50,249.5 C1060.63,280 1061.27,320 1060.39,351" stroke="#bcbcb4" stroke-width="1.6" fill="none"/><path d="M1070.05,249.5 C1068.94,280 1071.15,320 1070.39,351" stroke="#57555d" stroke-width="2.2" fill="none"/><path d="M1066.85,249.5 C1065.74,280 1067.95,320 1067.19,351" stroke="#bcbcb4" stroke-width="1.6" fill="none"/><path d="M1076.40,249.5 C1075.67,280 1076.22,320 1075.92,351" stroke="#57555d" stroke-width="2.2" fill="none"/><path d="M1073.20,249.5 C1072.47,280 1073.02,320 1072.72,351" stroke="#bcbcb4" stroke-width="1.6" fill="none"/><path d="M1082.75,249.5 C1083.48,280 1081.56,320 1083.23,351" stroke="#57555d" stroke-width="2.2" fill="none"/><path d="M1079.55,249.5 C1080.28,280 1078.36,320 1080.03,351" stroke="#bcbcb4" stroke-width="1.6" fill="none"/><path d="M1089.10,249.5 C1090.21,280 1088.64,320 1088.76,351" stroke="#57555d" stroke-width="2.2" fill="none"/><path d="M1085.90,249.5 C1087.01,280 1085.44,320 1085.56,351" stroke="#bcbcb4" stroke-width="1.6" fill="none"/><path d="M1095.45,249.5 C1095.32,280 1096.40,320 1095.56,351" stroke="#57555d" stroke-width="2.2" fill="none"/><path d="M1092.25,249.5 C1092.12,280 1093.20,320 1092.36,351" stroke="#bcbcb4" stroke-width="1.6" fill="none"/><ellipse cx="990.0" cy="258.0" rx="1.6" ry="7" stroke="#e2e2da" stroke-width="1.3" fill="#55545a"/><ellipse cx="1006.8" cy="264.0" rx="2.4" ry="11" stroke="#e2e2da" stroke-width="1.3" fill="#55545a"/><ellipse cx="1036.3" cy="262.0" rx="2.2" ry="13" stroke="#e2e2da" stroke-width="1.3" fill="#55545a"/><ellipse cx="1045.6" cy="321.0" rx="2.0" ry="8" stroke="#e2e2da" stroke-width="1.3" fill="#55545a"/><ellipse cx="1087.5" cy="268.0" rx="1.5" ry="10" stroke="#e2e2da" stroke-width="1.3" fill="#55545a"/></g>
<rect x="1060.9" y="339.1" width="20.2" height="11.9" fill="#ffffff"/>
<path d="M592.20,372.30 L592.20,14.50 L1093.50,14.50 L1093.50,372.30 Z" fill="none" stroke="#000000" stroke-width="6" stroke-linejoin="round"/>
<line x1="579.80" y1="372.30" x2="592.20" y2="372.30" stroke="#000000" stroke-width="6"/>
<text transform="translate(569.70,381.20) scale(1.0000,1.0300)" font-size="29.0" text-anchor="end" fill="#231f20">0</text>
<line x1="579.80" y1="307.20" x2="592.20" y2="307.20" stroke="#000000" stroke-width="6"/>
<text transform="translate(569.70,315.40) scale(1.0000,1.0300)" font-size="29.0" text-anchor="end" fill="#231f20">2</text>
<line x1="579.80" y1="242.10" x2="592.20" y2="242.10" stroke="#000000" stroke-width="6"/>
<text transform="translate(569.70,250.60) scale(1.0000,1.0300)" font-size="29.0" text-anchor="end" fill="#231f20">4</text>
<line x1="579.80" y1="177.00" x2="592.20" y2="177.00" stroke="#000000" stroke-width="6"/>
<text transform="translate(569.35,185.25) scale(1.0000,1.0300)" font-size="29.0" text-anchor="end" fill="#231f20">6</text>
<line x1="579.80" y1="111.90" x2="592.20" y2="111.90" stroke="#000000" stroke-width="6"/>
<text transform="translate(569.90,120.15) scale(1.0000,1.0300)" font-size="29.0" text-anchor="end" fill="#231f20">8</text>
<line x1="579.80" y1="46.80" x2="592.20" y2="46.80" stroke="#000000" stroke-width="6"/>
<text transform="translate(570.05,55.40) scale(1.0000,1.0300)" font-size="29.0" text-anchor="end" fill="#231f20">10</text>
<line x1="592.20" y1="372.30" x2="592.20" y2="384.80" stroke="#000000" stroke-width="6"/>
<text transform="translate(594.20,417.10) scale(1.0000,1.0300)" font-size="29.0" text-anchor="middle" fill="#231f20">0</text>
<line x1="717.53" y1="372.30" x2="717.53" y2="384.80" stroke="#000000" stroke-width="6"/>
<text transform="translate(724.10,417.10) scale(1.0000,1.0300)" font-size="29.0" text-anchor="middle" fill="#231f20">0.05</text>
<line x1="842.85" y1="372.30" x2="842.85" y2="384.80" stroke="#000000" stroke-width="6"/>
<text transform="translate(847.80,417.10) scale(1.0000,1.0300)" font-size="29.0" text-anchor="middle" fill="#231f20">0.1</text>
<line x1="968.17" y1="372.30" x2="968.17" y2="384.80" stroke="#000000" stroke-width="6"/>
<text transform="translate(976.80,417.10) scale(1.0000,1.0300)" font-size="29.0" text-anchor="middle" fill="#231f20">0.15</text>
<line x1="1093.50" y1="372.30" x2="1093.50" y2="384.80" stroke="#000000" stroke-width="6"/>
<text transform="translate(1102.00,417.10) scale(1.0000,1.0300)" font-size="29.0" text-anchor="middle" fill="#231f20">0.2</text>
<circle cx="631.00" cy="36.90" r="11.2" fill="#000000"/>
<text transform="translate(662.85,46.40)" font-size="28.7" fill="#231f20">Theoretical</text>
<circle cx="631.00" cy="83.60" r="11.2" fill="#dc2628"/>
<text transform="translate(661.75,94.00)" font-size="28.7" fill="#231f20">Experimental</text>
<line x1="842.85" y1="257.80" x2="842.85" y2="283.90" stroke="#5a5a5a" stroke-width="2.7"/>
<line x1="833.65" y1="257.80" x2="852.05" y2="257.80" stroke="#5a5a5a" stroke-width="2.7"/>
<line x1="833.65" y1="283.90" x2="852.05" y2="283.90" stroke="#5a5a5a" stroke-width="2.7"/>
<line x1="905.51" y1="183.20" x2="905.51" y2="247.90" stroke="#5a5a5a" stroke-width="2.7"/>
<line x1="896.31" y1="183.20" x2="914.71" y2="183.20" stroke="#5a5a5a" stroke-width="2.7"/>
<line x1="896.31" y1="247.90" x2="914.71" y2="247.90" stroke="#5a5a5a" stroke-width="2.7"/>
<line x1="968.17" y1="131.00" x2="968.17" y2="219.60" stroke="#5a5a5a" stroke-width="2.7"/>
<line x1="958.97" y1="131.00" x2="977.38" y2="131.00" stroke="#5a5a5a" stroke-width="2.7"/>
<line x1="958.97" y1="219.60" x2="977.38" y2="219.60" stroke="#5a5a5a" stroke-width="2.7"/>
<clipPath id="cb2"><rect x="1070" y="0" width="26.6" height="400"/></clipPath>
<g clip-path="url(#cb2)">
<line x1="1093.50" y1="34.40" x2="1093.50" y2="125.60" stroke="#5a5a5a" stroke-width="2.7"/>
<line x1="1084.30" y1="34.40" x2="1102.70" y2="34.40" stroke="#5a5a5a" stroke-width="2.7"/>
<line x1="1084.30" y1="125.60" x2="1102.70" y2="125.60" stroke="#5a5a5a" stroke-width="2.7"/>
<line x1="1093.50" y1="116.40" x2="1093.50" y2="174.70" stroke="#5a5a5a" stroke-width="2.7"/>
<line x1="1084.30" y1="116.40" x2="1102.70" y2="116.40" stroke="#5a5a5a" stroke-width="2.7"/>
<line x1="1084.30" y1="174.70" x2="1102.70" y2="174.70" stroke="#5a5a5a" stroke-width="2.7"/>
</g>
<line x1="842.85" y1="277.00" x2="842.85" y2="315.90" stroke="#5a5a5a" stroke-width="2.7"/>
<line x1="833.65" y1="277.00" x2="852.05" y2="277.00" stroke="#5a5a5a" stroke-width="2.7"/>
<line x1="833.65" y1="315.90" x2="852.05" y2="315.90" stroke="#5a5a5a" stroke-width="2.7"/>
<circle cx="592.20" cy="372.30" r="11.5" fill="#000000"/>
<circle cx="717.53" cy="372.30" r="11.5" fill="#000000"/>
<circle cx="842.85" cy="271.07" r="11.5" fill="#000000"/>
<circle cx="905.51" cy="229.73" r="11.5" fill="#000000"/>
<circle cx="968.17" cy="197.51" r="11.5" fill="#000000"/>
<circle cx="1093.50" cy="146.08" r="11.5" fill="#000000"/>
<circle cx="842.85" cy="296.78" r="11.5" fill="#dc2628"/>
<circle cx="905.51" cy="215.73" r="11.5" fill="#dc2628"/>
<circle cx="968.17" cy="166.91" r="11.5" fill="#dc2628"/>
<circle cx="1093.50" cy="80.33" r="11.5" fill="#dc2628"/>
<text transform="translate(687.95,451.40)" font-size="32.8" fill="#231f20">Compressive strain (<tspan font-style="italic">ε</tspan><tspan font-size="23" dy="13.3">c</tspan><tspan dy="-13.3">)</tspan></text>
<text transform="translate(521.40,311.70) rotate(-90)" font-size="32.8" fill="#231f20">Amplitude (μm)</text>
<text transform="translate(484.15,474.05)" font-size="36.5" font-weight="bold" fill="#231f20">c</text>
<line x1="719.00" y1="773.40" x2="719.00" y2="822.60" stroke="#5a5a5a" stroke-width="2.7"/>
<line x1="714.70" y1="773.40" x2="723.30" y2="773.40" stroke="#5a5a5a" stroke-width="2.7"/>
<line x1="714.70" y1="822.60" x2="723.30" y2="822.60" stroke="#5a5a5a" stroke-width="2.7"/>
<line x1="844.00" y1="732.30" x2="844.00" y2="756.70" stroke="#5a5a5a" stroke-width="2.7"/>
<line x1="839.70" y1="732.30" x2="848.30" y2="732.30" stroke="#5a5a5a" stroke-width="2.7"/>
<line x1="839.70" y1="756.70" x2="848.30" y2="756.70" stroke="#5a5a5a" stroke-width="2.7"/>
<line x1="906.50" y1="660.00" x2="906.50" y2="708.30" stroke="#5a5a5a" stroke-width="2.7"/>
<line x1="902.20" y1="660.00" x2="910.80" y2="660.00" stroke="#5a5a5a" stroke-width="2.7"/>
<line x1="902.20" y1="708.30" x2="910.80" y2="708.30" stroke="#5a5a5a" stroke-width="2.7"/>
<line x1="969.00" y1="624.10" x2="969.00" y2="664.50" stroke="#5a5a5a" stroke-width="2.7"/>
<line x1="964.70" y1="624.10" x2="973.30" y2="624.10" stroke="#5a5a5a" stroke-width="2.7"/>
<line x1="964.70" y1="664.50" x2="973.30" y2="664.50" stroke="#5a5a5a" stroke-width="2.7"/>
<path d="M594.00,835.30 L594.00,483.70 L1094.30,483.70 L1094.30,835.30 Z" fill="none" stroke="#000000" stroke-width="6" stroke-linejoin="round"/>
<line x1="581.50" y1="835.30" x2="594.00" y2="835.30" stroke="#000000" stroke-width="6"/>
<text transform="translate(568.25,841.50) scale(1.0000,1.0300)" font-size="29.0" text-anchor="end" fill="#231f20">1</text>
<line x1="581.50" y1="734.80" x2="594.00" y2="734.80" stroke="#000000" stroke-width="6"/>
<text transform="translate(570.10,741.45) scale(1.0000,1.0300)" font-size="29.0" text-anchor="end" fill="#231f20">1.1</text>
<line x1="581.50" y1="634.30" x2="594.00" y2="634.30" stroke="#000000" stroke-width="6"/>
<text transform="translate(569.70,641.05) scale(1.0000,1.0300)" font-size="29.0" text-anchor="end" fill="#231f20">1.2</text>
<line x1="581.50" y1="533.80" x2="594.00" y2="533.80" stroke="#000000" stroke-width="6"/>
<text transform="translate(569.70,541.15) scale(1.0000,1.0300)" font-size="29.0" text-anchor="end" fill="#231f20">1.3</text>
<line x1="594.00" y1="835.30" x2="594.00" y2="845.40" stroke="#000000" stroke-width="6"/>
<text transform="translate(595.50,868.40) scale(1.0000,1.0300)" font-size="29.0" text-anchor="middle" fill="#231f20">0</text>
<line x1="719.00" y1="835.30" x2="719.00" y2="845.40" stroke="#000000" stroke-width="6"/>
<text transform="translate(719.40,868.40) scale(1.0000,1.0300)" font-size="29.0" text-anchor="middle" fill="#231f20">0.05</text>
<line x1="844.00" y1="835.30" x2="844.00" y2="845.40" stroke="#000000" stroke-width="6"/>
<text transform="translate(844.10,868.40) scale(1.0000,1.0300)" font-size="29.0" text-anchor="middle" fill="#231f20">0.10</text>
<line x1="969.00" y1="835.30" x2="969.00" y2="845.40" stroke="#000000" stroke-width="6"/>
<text transform="translate(969.40,868.40) scale(1.0000,1.0300)" font-size="29.0" text-anchor="middle" fill="#231f20">0.15</text>
<line x1="1094.00" y1="835.30" x2="1094.00" y2="845.40" stroke="#000000" stroke-width="6"/>
<text transform="translate(1094.80,868.40) scale(1.0000,1.0300)" font-size="29.0" text-anchor="middle" fill="#231f20">0.20</text>
<line x1="1094.00" y1="503.00" x2="1094.00" y2="664.50" stroke="#5a5a5a" stroke-width="2.7"/>
<line x1="1089.70" y1="503.00" x2="1098.30" y2="503.00" stroke="#5a5a5a" stroke-width="2.7"/>
<line x1="1089.70" y1="664.50" x2="1098.30" y2="664.50" stroke="#5a5a5a" stroke-width="2.7"/>
<circle cx="594.00" cy="835.30" r="11.5" fill="#000000"/>
<circle cx="719.00" cy="799.12" r="11.5" fill="#000000"/>
<circle cx="844.00" cy="744.85" r="11.5" fill="#000000"/>
<circle cx="906.50" cy="684.55" r="11.5" fill="#000000"/>
<circle cx="969.00" cy="644.35" r="11.5" fill="#000000"/>
<circle cx="1094.00" cy="584.05" r="11.5" fill="#000000"/>
<text transform="translate(674.95,903.35)" font-size="32.8" fill="#231f20">Compressive strain (<tspan font-style="italic">ε</tspan><tspan font-size="23" dy="13.3">c</tspan><tspan dy="-13.3">)</tspan></text>
<text transform="translate(520.20,771.90) rotate(-90)" font-size="32.8" fill="#231f20">Roughness (<tspan font-style="italic">r</tspan>)</text>
<text transform="translate(1111.05,26.30)" font-size="36.5" font-weight="bold" fill="#231f20">d</text>
<path d="M1222.20,371.00 L1222.20,14.70 L1723.80,14.70 L1723.80,371.00 Z" fill="none" stroke="#231f20" stroke-width="6" stroke-linejoin="round"/>
<line x1="1209.10" y1="370.80" x2="1222.20" y2="370.80" stroke="#231f20" stroke-width="5.6"/>
<text transform="translate(1197.60,379.20) scale(1.0000,1.0300)" font-size="29.0" text-anchor="end" fill="#231f20">-0.2</text>
<line x1="1209.10" y1="321.20" x2="1222.20" y2="321.20" stroke="#231f20" stroke-width="5.6"/>
<text transform="translate(1196.60,331.80) scale(1.0000,1.0300)" font-size="29.0" text-anchor="end" fill="#231f20">0</text>
<line x1="1209.10" y1="271.60" x2="1222.20" y2="271.60" stroke="#231f20" stroke-width="5.6"/>
<text transform="translate(1197.60,281.15) scale(1.0000,1.0300)" font-size="29.0" text-anchor="end" fill="#231f20">0.2</text>
<line x1="1209.10" y1="222.00" x2="1222.20" y2="222.00" stroke="#231f20" stroke-width="5.6"/>
<text transform="translate(1196.60,230.70) scale(1.0000,1.0300)" font-size="29.0" text-anchor="end" fill="#231f20">0.4</text>
<line x1="1209.10" y1="172.40" x2="1222.20" y2="172.40" stroke="#231f20" stroke-width="5.6"/>
<text transform="translate(1197.60,181.00) scale(1.0000,1.0300)" font-size="29.0" text-anchor="end" fill="#231f20">0.6</text>
<line x1="1209.10" y1="122.80" x2="1222.20" y2="122.80" stroke="#231f20" stroke-width="5.6"/>
<text transform="translate(1197.60,132.20) scale(1.0000,1.0300)" font-size="29.0" text-anchor="end" fill="#231f20">0.8</text>
<line x1="1209.10" y1="73.20" x2="1222.20" y2="73.20" stroke="#231f20" stroke-width="5.6"/>
<text transform="translate(1196.60,81.10) scale(1.0000,1.0300)" font-size="29.0" text-anchor="end" fill="#231f20">1.0</text>
<line x1="1209.10" y1="23.60" x2="1222.20" y2="23.60" stroke="#231f20" stroke-width="5.6"/>
<text transform="translate(1197.60,31.95) scale(1.0000,1.0300)" font-size="29.0" text-anchor="end" fill="#231f20">1.2</text>
<line x1="1221.60" y1="371.00" x2="1221.60" y2="385.40" stroke="#231f20" stroke-width="5.6"/>
<text transform="translate(1222.30,417.80) scale(1.0000,1.0300)" font-size="29.0" text-anchor="middle" fill="#231f20">0</text>
<line x1="1305.30" y1="371.00" x2="1305.30" y2="385.40" stroke="#231f20" stroke-width="5.6"/>
<text transform="translate(1305.90,417.80) scale(1.0000,1.0300)" font-size="29.0" text-anchor="middle" fill="#231f20">2</text>
<line x1="1389.00" y1="371.00" x2="1389.00" y2="385.40" stroke="#231f20" stroke-width="5.6"/>
<text transform="translate(1389.50,417.80) scale(1.0000,1.0300)" font-size="29.0" text-anchor="middle" fill="#231f20">4</text>
<line x1="1472.70" y1="371.00" x2="1472.70" y2="385.40" stroke="#231f20" stroke-width="5.6"/>
<text transform="translate(1473.10,417.80) scale(1.0000,1.0300)" font-size="29.0" text-anchor="middle" fill="#231f20">6</text>
<line x1="1556.40" y1="371.00" x2="1556.40" y2="385.40" stroke="#231f20" stroke-width="5.6"/>
<text transform="translate(1556.70,417.80) scale(1.0000,1.0300)" font-size="29.0" text-anchor="middle" fill="#231f20">8</text>
<line x1="1640.10" y1="371.00" x2="1640.10" y2="385.40" stroke="#231f20" stroke-width="5.6"/>
<text transform="translate(1640.30,417.80) scale(1.0000,1.0300)" font-size="29.0" text-anchor="middle" fill="#231f20">10</text>
<line x1="1723.80" y1="371.00" x2="1723.80" y2="385.40" stroke="#231f20" stroke-width="5.6"/>
<text transform="translate(1723.90,417.80) scale(1.0000,1.0300)" font-size="29.0" text-anchor="middle" fill="#231f20">12</text>
<rect x="1229" y="305" width="65.7" height="14" fill="url(#dbg)" opacity="0.7"/>
<path d="M1233,318.9 L1233,310 A29.8,29.8 0 0 1 1292.6,310 L1292.6,318.9 Z" fill="#2b2b2b"/>
<ellipse cx="1263.6" cy="311.9" rx="7.8" ry="6.9" fill="url(#hl1)"/>
<rect x="1286.5" y="193.5" width="86.7" height="17.3" fill="url(#dbg)"/>
<path d="M1297.6,210.8 A36.5,36.5 0 0 1 1369.2,210.8 Z" fill="#2a2a2a"/>
<ellipse cx="1333" cy="200" rx="7" ry="9" fill="url(#hl2)"/>
<rect x="1431.1" y="87.3" width="85.1" height="17.3" fill="url(#dbg)"/>
<path d="M1442.8,95.9 Q1476.6,74 1510.4,96.4 Q1504,104.6 1498,104.6 L1456,104.6 Q1450,104 1442.8,95.9 Z" fill="#2a2a2a"/>
<rect x="1556.5" y="55.5" width="86.3" height="21.3" fill="url(#dbg)"/>
<path d="M1563.9,61.5 Q1599.5,49 1635,61.9 Q1599.5,75 1563.9,61.5 Z" fill="#2a2a2a"/>
<circle cx="1221.60" cy="356.00" r="11.4" fill="#000000"/>
<circle cx="1263.30" cy="338.50" r="11.4" fill="#000000"/>
<circle cx="1305.30" cy="286.40" r="11.4" fill="#000000"/>
<circle cx="1347.00" cy="232.20" r="11.4" fill="#000000"/>
<circle cx="1388.70" cy="202.10" r="11.4" fill="#000000"/>
<circle cx="1418.30" cy="164.60" r="11.4" fill="#000000"/>
<circle cx="1472.60" cy="145.00" r="11.4" fill="#000000"/>
<circle cx="1514.40" cy="124.60" r="11.4" fill="#000000"/>
<circle cx="1556.40" cy="109.10" r="11.4" fill="#000000"/>
<circle cx="1598.20" cy="105.50" r="11.4" fill="#000000"/>
<circle cx="1640.00" cy="98.20" r="11.4" fill="#000000"/>
<circle cx="1681.90" cy="95.60" r="11.4" fill="#000000"/>
<rect x="1490.7" y="180.6" width="211.9" height="129.8" fill="#ffffff" stroke="#231f20" stroke-width="3.6"/>
<line x1="1481.20" y1="310.60" x2="1490.70" y2="310.60" stroke="#231f20" stroke-width="3.4"/>
<text transform="translate(1477.95,315.65) scale(1.0000,0.9500)" font-size="20.7" text-anchor="end" fill="#231f20">0.1</text>
<line x1="1481.20" y1="281.55" x2="1490.70" y2="281.55" stroke="#231f20" stroke-width="3.4"/>
<text transform="translate(1477.95,287.50) scale(1.0000,0.9500)" font-size="20.7" text-anchor="end" fill="#231f20">0.3</text>
<line x1="1481.20" y1="252.50" x2="1490.70" y2="252.50" stroke="#231f20" stroke-width="3.4"/>
<text transform="translate(1477.95,258.45) scale(1.0000,0.9500)" font-size="20.7" text-anchor="end" fill="#231f20">0.5</text>
<line x1="1481.20" y1="223.45" x2="1490.70" y2="223.45" stroke="#231f20" stroke-width="3.4"/>
<text transform="translate(1477.95,229.95) scale(1.0000,0.9500)" font-size="20.7" text-anchor="end" fill="#231f20">0.7</text>
<line x1="1481.20" y1="194.40" x2="1490.70" y2="194.40" stroke="#231f20" stroke-width="3.4"/>
<text transform="translate(1477.95,201.30) scale(1.0000,0.9500)" font-size="20.7" text-anchor="end" fill="#231f20">0.9</text>
<line x1="1490.10" y1="310.40" x2="1490.10" y2="319.70" stroke="#231f20" stroke-width="3.4"/>
<text transform="translate(1491.00,338.15) scale(1.0000,0.9500)" font-size="20.7" text-anchor="middle" fill="#231f20">2</text>
<line x1="1561.16" y1="310.40" x2="1561.16" y2="319.70" stroke="#231f20" stroke-width="3.4"/>
<text transform="translate(1561.60,338.15) scale(1.0000,0.9500)" font-size="20.7" text-anchor="middle" fill="#231f20">4</text>
<line x1="1632.22" y1="310.40" x2="1632.22" y2="319.70" stroke="#231f20" stroke-width="3.4"/>
<text transform="translate(1632.70,338.15) scale(1.0000,0.9500)" font-size="20.7" text-anchor="middle" fill="#231f20">6</text>
<line x1="1703.28" y1="310.40" x2="1703.28" y2="319.70" stroke="#231f20" stroke-width="3.4"/>
<text transform="translate(1703.30,338.15) scale(1.0000,0.9500)" font-size="20.7" text-anchor="middle" fill="#231f20">8</text>
<circle cx="1490.10" cy="293.60" r="2.7" fill="#000000"/>
<circle cx="1501.11" cy="288.35" r="2.7" fill="#000000"/>
<circle cx="1512.12" cy="283.11" r="2.7" fill="#000000"/>
<circle cx="1523.13" cy="277.86" r="2.7" fill="#000000"/>
<circle cx="1534.14" cy="272.61" r="2.7" fill="#000000"/>
<circle cx="1545.15" cy="267.36" r="2.7" fill="#000000"/>
<circle cx="1556.16" cy="262.12" r="2.7" fill="#000000"/>
<circle cx="1567.17" cy="256.87" r="2.7" fill="#000000"/>
<circle cx="1578.18" cy="251.62" r="2.7" fill="#000000"/>
<circle cx="1589.19" cy="246.37" r="2.7" fill="#000000"/>
<circle cx="1600.21" cy="241.13" r="2.7" fill="#000000"/>
<circle cx="1611.22" cy="235.88" r="2.7" fill="#000000"/>
<circle cx="1622.23" cy="230.63" r="2.7" fill="#000000"/>
<circle cx="1633.24" cy="225.38" r="2.7" fill="#000000"/>
<circle cx="1644.25" cy="220.14" r="2.7" fill="#000000"/>
<circle cx="1655.26" cy="214.89" r="2.7" fill="#000000"/>
<circle cx="1666.27" cy="209.64" r="2.7" fill="#000000"/>
<circle cx="1677.28" cy="204.39" r="2.7" fill="#000000"/>
<circle cx="1688.29" cy="199.15" r="2.7" fill="#000000"/>
<circle cx="1699.30" cy="193.90" r="2.7" fill="#000000"/>
<path d="M1561.3,259.1 L1621.4,259.1 L1621.4,229.5" fill="none" stroke="#231f20" stroke-width="3"/>
<text transform="translate(1630.50,250.25) scale(1.0000,0.9200)" font-size="12.5" fill="#231f20">0.12 cm<tspan font-size="8" dy="-5">-1</tspan></text>
<circle cx="1490.10" cy="304.70" r="5.6" fill="#000000"/>
<circle cx="1525.30" cy="272.90" r="5.6" fill="#000000"/>
<circle cx="1561.30" cy="255.10" r="5.6" fill="#000000"/>
<circle cx="1596.90" cy="234.00" r="5.6" fill="#000000"/>
<circle cx="1632.10" cy="222.40" r="5.6" fill="#000000"/>
<circle cx="1668.10" cy="210.60" r="5.6" fill="#000000"/>
<circle cx="1703.70" cy="199.50" r="5.6" fill="#000000"/>
<text transform="translate(1521.20,358.40)" font-size="24.5" fill="#231f20">Position (mm)</text>
<text transform="translate(1440.35,274.55) rotate(-90)" font-size="24.5" fill="#231f20">cos <tspan font-style="italic">θ</tspan></text>
<text transform="translate(1371.75,451.15)" font-size="32.8" fill="#231f20">Position (mm)</text>
<text transform="translate(1146.90,232.05) rotate(-90)" font-size="32.8" fill="#231f20">cos <tspan font-style="italic">θ</tspan></text>
<text transform="translate(1110.60,474.65)" font-size="36.5" font-weight="bold" fill="#231f20">e</text>
<line x1="1346.80" y1="539.00" x2="1346.80" y2="577.10" stroke="#5a5a5a" stroke-width="2.7"/>
<line x1="1342.50" y1="539.00" x2="1351.10" y2="539.00" stroke="#5a5a5a" stroke-width="2.7"/>
<line x1="1342.50" y1="577.10" x2="1351.10" y2="577.10" stroke="#5a5a5a" stroke-width="2.7"/>
<line x1="1471.90" y1="704.90" x2="1471.90" y2="754.60" stroke="#5a5a5a" stroke-width="2.7"/>
<line x1="1467.60" y1="704.90" x2="1476.20" y2="704.90" stroke="#5a5a5a" stroke-width="2.7"/>
<line x1="1467.60" y1="754.60" x2="1476.20" y2="754.60" stroke="#5a5a5a" stroke-width="2.7"/>
<path d="M1222.30,833.50 L1222.30,481.70 L1722.30,481.70 L1722.30,833.50 Z" fill="none" stroke="#000000" stroke-width="6" stroke-linejoin="round"/>
<line x1="1221.70" y1="509.20" x2="1221.70" y2="552.40" stroke="#5a5a5a" stroke-width="2.7"/>
<line x1="1217.40" y1="509.20" x2="1226.00" y2="509.20" stroke="#5a5a5a" stroke-width="2.7"/>
<line x1="1217.40" y1="552.40" x2="1226.00" y2="552.40" stroke="#5a5a5a" stroke-width="2.7"/>
<line x1="1211.20" y1="833.50" x2="1222.30" y2="833.50" stroke="#000000" stroke-width="6"/>
<text transform="translate(1197.30,846.80) scale(1.0000,1.0300)" font-size="29.0" text-anchor="end" fill="#231f20">0</text>
<line x1="1211.20" y1="763.17" x2="1222.30" y2="763.17" stroke="#000000" stroke-width="6"/>
<text transform="translate(1197.30,775.52) scale(1.0000,1.0300)" font-size="29.0" text-anchor="end" fill="#231f20">1</text>
<line x1="1211.20" y1="692.84" x2="1222.30" y2="692.84" stroke="#000000" stroke-width="6"/>
<text transform="translate(1197.30,704.84) scale(1.0000,1.0300)" font-size="29.0" text-anchor="end" fill="#231f20">2</text>
<line x1="1211.20" y1="622.51" x2="1222.30" y2="622.51" stroke="#000000" stroke-width="6"/>
<text transform="translate(1197.30,632.51) scale(1.0000,1.0300)" font-size="29.0" text-anchor="end" fill="#231f20">3</text>
<line x1="1211.20" y1="552.18" x2="1222.30" y2="552.18" stroke="#000000" stroke-width="6"/>
<text transform="translate(1197.30,560.73) scale(1.0000,1.0300)" font-size="29.0" text-anchor="end" fill="#231f20">4</text>
<line x1="1211.20" y1="481.85" x2="1222.30" y2="481.85" stroke="#000000" stroke-width="6"/>
<text transform="translate(1197.30,488.60) scale(1.0000,1.0300)" font-size="29.0" text-anchor="end" fill="#231f20">5</text>
<line x1="1221.70" y1="833.50" x2="1221.70" y2="845.40" stroke="#000000" stroke-width="6"/>
<text transform="translate(1222.60,872.70) scale(1.0000,1.0300)" font-size="29.0" text-anchor="middle" fill="#231f20">0</text>
<line x1="1346.80" y1="833.50" x2="1346.80" y2="845.40" stroke="#000000" stroke-width="6"/>
<text transform="translate(1347.00,872.70) scale(1.0000,1.0300)" font-size="29.0" text-anchor="middle" fill="#231f20">0.05</text>
<line x1="1471.90" y1="833.50" x2="1471.90" y2="845.40" stroke="#000000" stroke-width="6"/>
<text transform="translate(1472.00,872.70) scale(1.0000,1.0300)" font-size="29.0" text-anchor="middle" fill="#231f20">0.10</text>
<line x1="1597.00" y1="833.50" x2="1597.00" y2="845.40" stroke="#000000" stroke-width="6"/>
<text transform="translate(1597.10,872.70) scale(1.0000,1.0300)" font-size="29.0" text-anchor="middle" fill="#231f20">0.15</text>
<line x1="1722.10" y1="833.50" x2="1722.10" y2="845.40" stroke="#000000" stroke-width="6"/>
<text transform="translate(1722.60,872.70) scale(1.0000,1.0300)" font-size="29.0" text-anchor="middle" fill="#231f20">0.20</text>
<circle cx="1221.70" cy="531.08" r="11.5" fill="#000000"/>
<circle cx="1346.80" cy="559.21" r="11.5" fill="#000000"/>
<circle cx="1471.90" cy="729.41" r="11.5" fill="#000000"/>
<circle cx="1534.45" cy="824.71" r="11.5" fill="#000000"/>
<circle cx="1597.00" cy="833.50" r="11.5" fill="#000000"/>
<circle cx="1722.10" cy="833.50" r="11.5" fill="#000000"/>
<text transform="translate(1304.20,902.50)" font-size="32.8" fill="#231f20">Compressive strain (<tspan font-style="italic">ε</tspan><tspan font-size="23" dy="13.3">c</tspan><tspan dy="-13.3">)</tspan></text>
<text transform="translate(1146.60,771.15) rotate(-90)" font-size="32.8" fill="#231f20">Velocity (mm/s)</text>
</svg>
</body></html>
